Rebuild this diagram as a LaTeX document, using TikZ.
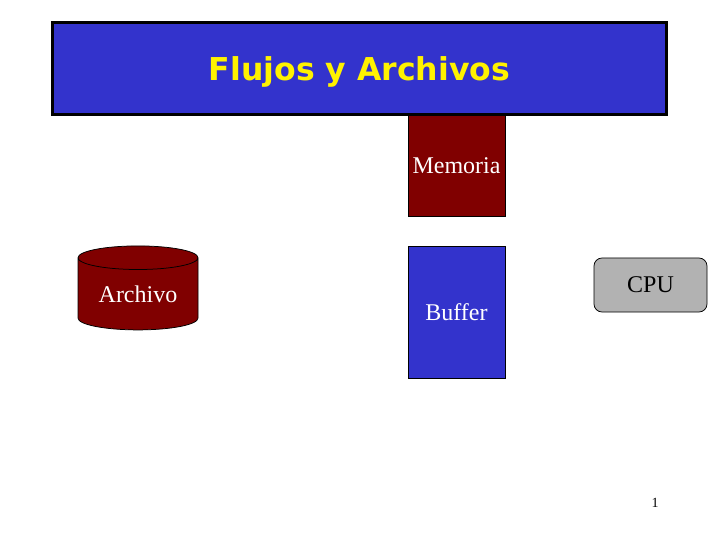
\documentclass[tikz,border=0pt]{standalone}
\usepackage{fontspec}
\setmainfont{Liberation Serif}
\newfontfamily\titlefont{DejaVu Sans}
\usetikzlibrary{shapes.geometric}

\definecolor{slideblue}{HTML}{3333CC}
\definecolor{slidered}{HTML}{800000}
\definecolor{slidegray}{HTML}{B2B2B2}

\tikzset{
  box/.style={draw=black, line width=0.75bp, inner sep=0pt, text=white,
    font=\fontsize{24bp}{28bp}\selectfont},
}

\begin{document}
\begin{tikzpicture}[x=1bp, y=-1bp]
			\useasboundingbox (0,0) rectangle (720,540);
			\node[draw=black, line width=3bp, fill=slideblue, minimum width=613bp, minimum height=92bp,
			  text=yellow, font=\titlefont\bfseries\fontsize{31.5bp}{36bp}\selectfont] (title) at (359.5,69) {\raisebox{-3bp}[\height][\depth]{Flujos y Archivos}};
			\node[box, fill=slidered, minimum width=97bp, minimum height=101bp] (mem) at (456.5,165.5) {Memoria};
			\node[box, fill=slideblue, minimum width=97bp, minimum height=132bp] (buf) at (456.5,312) {Buffer};
			\node[box, fill=slidegray, text=black, rounded corners=8bp, minimum width=113bp, minimum height=54bp] (cpu) at (650.5,285) {CPU};
			\node[box, cylinder, shape border rotate=90, aspect=0.3, fill=slidered,
			  minimum width=120bp, minimum height=84bp] (file) at (138,294) {Archivo};
			\node[font=\fontsize{14bp}{16bp}\selectfont] (page) at (655,503) {1};
		\end{tikzpicture}
\end{document}
